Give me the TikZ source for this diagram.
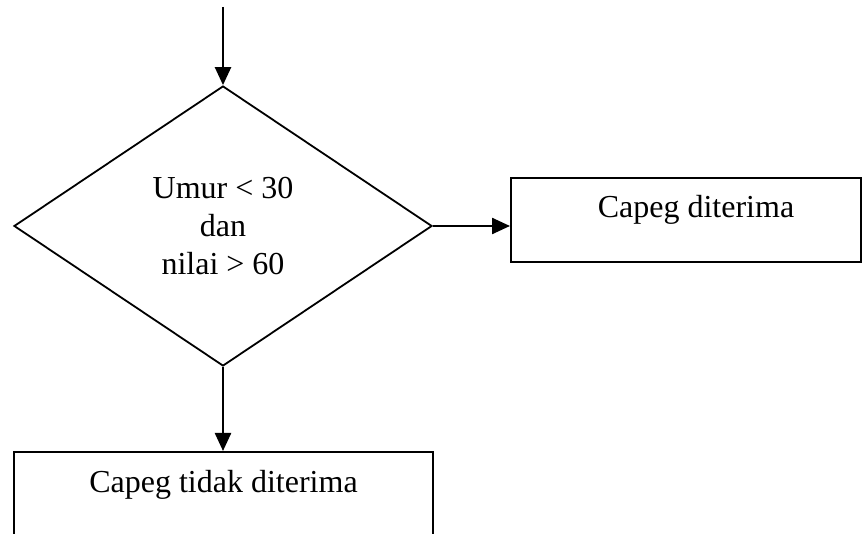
\documentclass[tikz,border=0pt]{standalone}
\usepackage{fontspec}
\setmainfont{Liberation Serif}
\usetikzlibrary{shapes.geometric,arrows.meta}

\tikzset{
  flowline/.style={line width=2.4pt, -{Triangle[length=18pt,width=16pt]}},
  decision/.style={draw, diamond, line width=1.8pt, inner sep=0pt,
    minimum width=418pt, minimum height=280pt, align=center},
  procbox/.style={draw, rectangle, line width=2pt, inner sep=0pt},
  lbl/.style={inner sep=0pt, anchor=base}
}

\begin{document}
\begin{tikzpicture}[x=1pt, y=-1pt, font=\fontsize{32}{38}\selectfont]
  \useasboundingbox (0,0) rectangle (863,534);
  \clip (0,0) rectangle (863,534);

  % entry point
  \coordinate (start) at (223,7);

  % decision
  \node[decision] (cond) at (223,226) {Umur < 30\\dan\\nilai > 60};

  % accepted branch
  \node[procbox, minimum width=350pt, minimum height=84pt] (yes) at (686,220) {};
  \node[lbl] (yestext) at (696,218) {Capeg diterima};

  % rejected branch (box continues past the lower edge)
  \node[procbox, minimum width=419pt, minimum height=100pt] (no) at (223,502) {};
  \node[lbl] (notext) at (223.5,493) {Capeg tidak diterima};

  % connectors
  \draw[flowline] (start) -- (cond.north);
  \draw[flowline] (cond.east) -- (cond.east -| yes.west);
  \draw[flowline] (cond.south) -- (cond.south |- no.north);
\end{tikzpicture}
\end{document}
